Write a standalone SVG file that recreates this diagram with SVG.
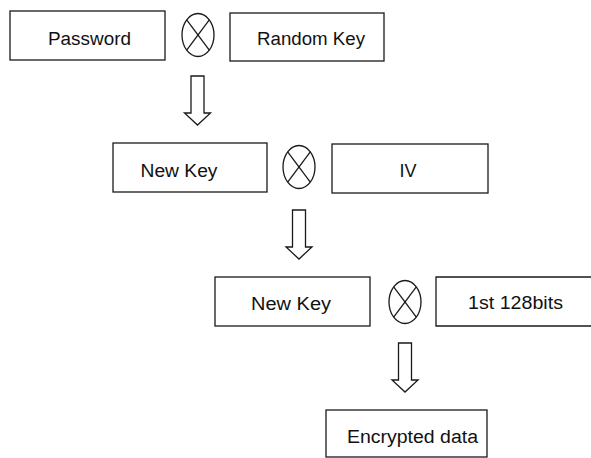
<svg xmlns="http://www.w3.org/2000/svg" width="591" height="458" viewBox="0 0 591 458">
<style>
.box{fill:#fff;stroke:#1a1a1a;stroke-width:1.3}
.op{fill:none;stroke:#1a1a1a;stroke-width:1.3}
.arr{fill:#fff;stroke:#1a1a1a;stroke-width:1.3;stroke-linejoin:miter}
text{font-family:"Liberation Sans",Arial,sans-serif;font-size:18px;fill:#111;text-anchor:middle}
</style>
<defs>
<g id="xor"><ellipse cx="0" cy="0" rx="16" ry="21.5" class="op"/><line x1="-11.3" y1="-15.2" x2="11.3" y2="15.2" class="op"/><line x1="11.3" y1="-15.2" x2="-11.3" y2="15.2" class="op"/></g>
<path id="down" class="arr" d="M-6.5,0 H6.5 V37 H13 L0,49 L-13,37 H-6.5 Z"/>
</defs>
<rect width="591" height="458" fill="#fff"/>
<g id="password"><rect class="box" x="10" y="11" width="155" height="49"/><text x="89.5" y="45" textLength="83" lengthAdjust="spacingAndGlyphs">Password</text></g>
<g id="xor1"><use href="#xor" x="198" y="35"/></g>
<g id="randomkey"><rect class="box" x="230" y="13" width="154" height="48"/><text x="311" y="45" textLength="108" lengthAdjust="spacingAndGlyphs">Random Key</text></g>
<g id="newkey1"><rect class="box" x="113" y="143" width="154" height="49"/><text x="179" y="177" textLength="77" lengthAdjust="spacingAndGlyphs">New Key</text></g>
<g id="xor2"><use href="#xor" x="299" y="167"/></g>
<g id="iv"><rect class="box" x="332" y="144" width="156" height="49"/><text x="408" y="177">IV</text></g>
<g id="newkey2"><rect class="box" x="215" y="277" width="155" height="49"/><text x="291" y="310" textLength="80" lengthAdjust="spacingAndGlyphs">New Key</text></g>
<g id="xor3"><use href="#xor" x="405" y="302"/></g>
<g id="bits"><path class="box" d="M595,277 H436 V326 H595"/><text x="515.5" y="309" textLength="95" lengthAdjust="spacingAndGlyphs">1st 128bits</text></g>
<g id="encrypted"><rect class="box" x="326" y="410" width="161" height="47"/><text x="412.5" y="443" textLength="131" lengthAdjust="spacingAndGlyphs">Encrypted data</text></g>
<g id="connectors">
<use href="#down" x="197.5" y="76"/>
<use href="#down" x="299" y="210"/>
<use href="#down" x="405" y="343"/>
</g>
</svg>
